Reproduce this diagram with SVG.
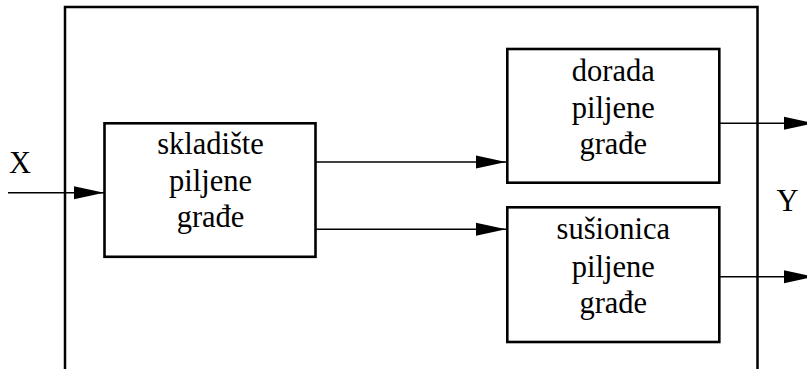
<svg xmlns="http://www.w3.org/2000/svg" width="807" height="369" viewBox="0 0 807 369">
  <style>
    .frame { fill: none; stroke: #000; stroke-width: 2.5; }
    .box { fill: #fff; stroke: #000; stroke-width: 2.6; }
    .wire { fill: none; stroke: #000; stroke-width: 1.6; marker-end: url(#head); }
    .label { text-anchor: middle; }
  </style>
  <defs>
    <marker id="head" markerUnits="userSpaceOnUse" markerWidth="32" markerHeight="16" refX="30" refY="6.5" orient="auto" overflow="visible">
      <polygon points="0,0 30,6.5 0,13" fill="#000"/>
    </marker>
  </defs>

  <!-- system boundary, open at the bottom -->
  <path class="frame" d="M65,369 V7 H757.5 V369"/>

  <!-- flows -->
  <g id="connectors">
    <line class="wire" x1="8" y1="192.7" x2="104" y2="192.7"/>
    <line class="wire" x1="316" y1="162" x2="506" y2="162"/>
    <line class="wire" x1="316" y1="229.3" x2="506" y2="229.3"/>
    <line class="wire" x1="720" y1="123.3" x2="814" y2="123.3"/>
    <line class="wire" x1="720" y1="276.7" x2="814" y2="276.7"/>
  </g>

  <g font-family="Liberation Serif, serif" font-size="30.5" fill="#000">
    <g id="skladiste">
      <rect class="box" x="104.5" y="123.3" width="211" height="133.5"/>
      <text class="label" x="210.5" y="153.5">skladište</text>
      <text class="label" x="210.5" y="190.5">piljene</text>
      <text class="label" x="210.5" y="226.5">građe</text>
    </g>

    <g id="dorada">
      <rect class="box" x="507.3" y="49" width="212" height="133.7"/>
      <text class="label" x="613.3" y="80.5">dorada</text>
      <text class="label" x="613.3" y="118">piljene</text>
      <text class="label" x="613.3" y="154.3">građe</text>
    </g>

    <g id="susionica">
      <rect class="box" x="507.3" y="207.3" width="212" height="134.7"/>
      <text class="label" x="613.3" y="239">sušionica</text>
      <text class="label" x="613.3" y="277">piljene</text>
      <text class="label" x="613.3" y="313">građe</text>
    </g>

    <g id="inputs-outputs">
      <text x="9" y="173.3">X</text>
      <text x="776.5" y="210.7">Y</text>
    </g>
  </g>
</svg>
